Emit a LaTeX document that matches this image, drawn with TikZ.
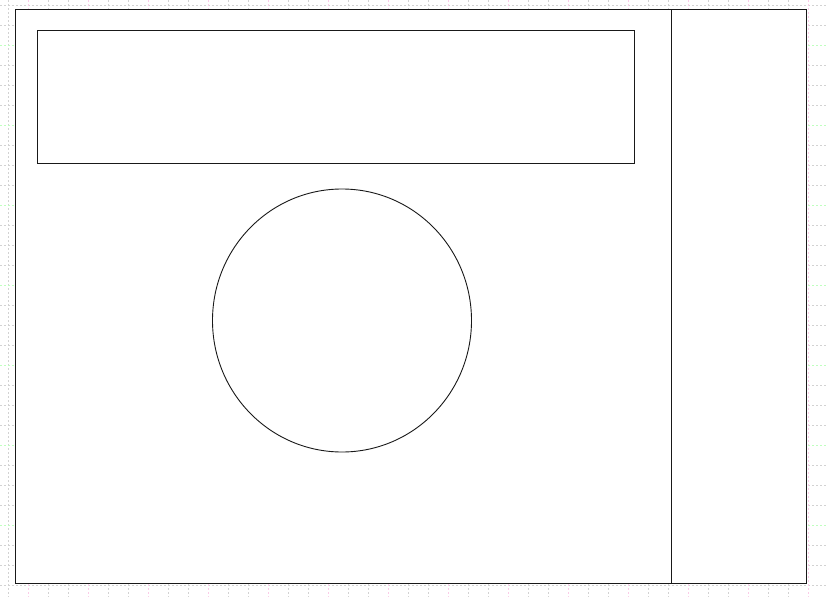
\documentclass[tikz,border=0pt]{standalone}
\begin{document}
\begin{tikzpicture}[x=1pt,y=-1pt,
  gridv/.style={draw=gray!35,line width=0.6pt,dash pattern=on 1.5pt off 2.5pt},
  gridp/.style={draw=magenta!20,line width=0.6pt,dash pattern=on 1.5pt off 2.5pt},
  gridg/.style={draw=green!25,line width=0.6pt,dash pattern=on 1.5pt off 2.5pt},
  outline/.style={draw=black!90,line width=0.9pt}]
\useasboundingbox (0,0) rectangle (827,597);
\fill[white] (0,0) rectangle (827,597);
% faint background grid
\foreach \i in {0,...,41} {
  \pgfmathsetmacro{\xx}{8+20*\i}
  \draw[gridv] (\xx,0) -- (\xx,597);
}
\foreach \i in {0,...,29} {
  \pgfmathsetmacro{\yy}{5+20*\i}
  \draw[gridv] (0,\yy) -- (827,\yy);
}
\foreach \i in {1,4,...,41} {
  \pgfmathsetmacro{\xx}{8+20*\i}
  \draw[gridp] (\xx,0) -- (\xx,597);
}
\foreach \i in {2,6,...,29} {
  \pgfmathsetmacro{\yy}{5+20*\i}
  \draw[gridg] (0,\yy) -- (827,\yy);
}
% outer frame
\node[outline,fill=white,inner sep=0pt,minimum width=791pt,minimum height=574pt,anchor=north west] (frame) at (15,9) {};
\coordinate (divtop) at (671,9);
\coordinate (divbot) at (671,583);
\draw[outline] (divtop) -- (divbot);
% top rectangle
\node[outline,inner sep=0pt,minimum width=597pt,minimum height=133pt,anchor=north west] (banner) at (37,30) {};
% circle
\draw[outline] (342,320.5) ellipse [x radius=129.5, y radius=131.5];
\end{tikzpicture}
\end{document}
